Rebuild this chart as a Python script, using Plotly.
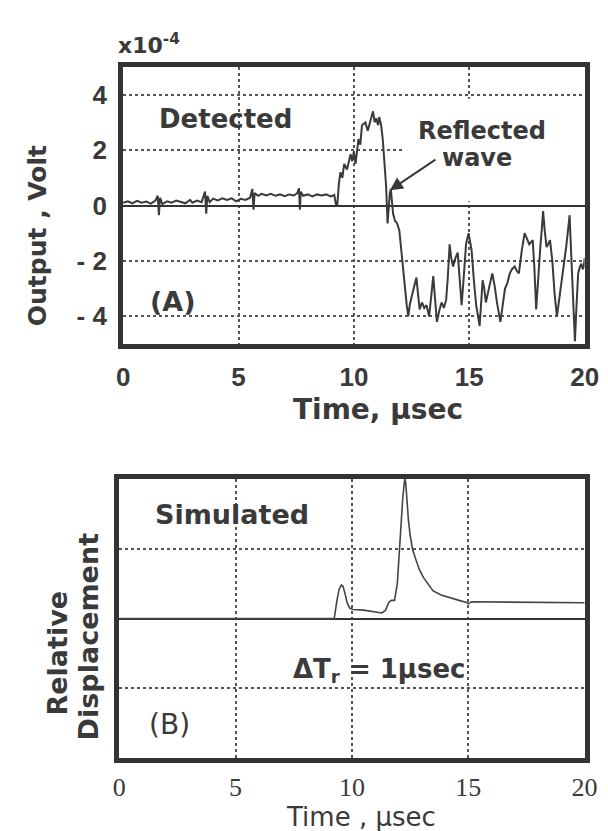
import plotly.graph_objects as go

# ---------------- data ----------------
det_t = [0.0, 0.2, 0.4, 0.6, 0.8, 1.0, 1.2, 1.4, 1.5, 1.55, 1.6, 1.7, 1.9, 2.1, 2.3, 2.5, 2.7, 2.9, 3.0,
         3.2, 3.4, 3.55, 3.6, 3.65, 3.75, 3.9, 4.1, 4.3, 4.5, 4.7, 4.9, 5.1, 5.3, 5.5, 5.6, 5.65, 5.7,
         5.85, 6.0, 6.2, 6.4, 6.6, 6.8, 7.0, 7.2, 7.4, 7.55, 7.62, 7.66, 7.7, 7.8, 8.0, 8.2, 8.4, 8.6,
         8.8, 9.0, 9.15, 9.22, 9.28, 9.35, 9.42, 9.5, 9.58, 9.7, 9.86, 9.93, 10.0, 10.07, 10.2, 10.28,
         10.35, 10.5, 10.6, 10.72, 10.83, 10.9, 10.97, 11.05, 11.1, 11.18, 11.25, 11.32, 11.4, 11.46,
         11.52, 11.56, 11.6, 11.66, 11.7, 11.78, 11.875, 11.97, 12.05, 12.15, 12.22, 12.29, 12.36,
         12.42, 12.5, 12.6, 12.71, 12.78, 12.85, 12.95, 13.05, 13.15, 13.26, 13.35, 13.44, 13.52,
         13.6, 13.7, 13.8, 13.9, 14.0, 14.07, 14.15, 14.22, 14.3, 14.4, 14.5, 14.58, 14.67, 14.76,
         14.86, 14.97, 15.03, 15.1, 15.2, 15.3, 15.45, 15.52, 15.58, 15.65, 15.72, 15.85, 16.0, 16.1,
         16.2, 16.35, 16.45, 16.55, 16.65, 16.76, 16.85, 16.97, 17.05, 17.15, 17.28, 17.4, 17.5,
         17.6, 17.75, 17.82, 17.9, 17.98, 18.08, 18.15, 18.2, 18.27, 18.35, 18.42, 18.5, 18.6, 18.7,
         18.8, 18.9, 19.0, 19.1, 19.2, 19.28, 19.35, 19.42, 19.5, 19.58, 19.65, 19.72, 19.8, 19.86,
         19.92, 19.97, 20.0]
det_v = [0.10, 0.15, 0.08, 0.17, 0.10, 0.14, 0.07, 0.18, 0.35, -0.35, 0.28, 0.05, 0.15, 0.10, 0.18,
         0.12, 0.08, 0.20, 0.10, 0.18, 0.12, 0.50, -0.30, 0.35, 0.12, 0.25, 0.18, 0.26, 0.20, 0.26,
         0.15, 0.24, 0.20, 0.28, 0.60, -0.15, 0.45, 0.35, 0.42, 0.36, 0.42, 0.35, 0.40, 0.34, 0.40,
         0.36, 0.45, 0.62, -0.15, 0.50, 0.35, 0.40, 0.33, 0.40, 0.36, 0.40, 0.33, 0.38, 0.05, 0.0,
         0.8, 1.2, 1.0, 1.5, 1.3, 1.85, 1.6, 1.95, 1.5, 2.4, 2.2, 2.9, 3.0, 2.7, 3.1, 3.4, 3.0, 3.15,
         2.9, 3.2, 2.9, 2.4, 1.6, 0.65, -0.65, 0.1, 0.45, 0.6, 0.1, -0.3, -0.55, -0.65, -0.9, -1.6,
         -2.45, -3.2, -3.6, -4.0, -3.6, -3.3, -3.0, -2.6, -3.2, -3.75, -3.5, -3.7, -3.6, -4.0, -3.3,
         -2.55, -3.4, -4.2, -3.8, -3.5, -3.7, -3.4, -2.6, -1.4, -1.9, -2.2, -1.9, -1.7, -2.6, -3.6,
         -2.6, -1.4, -1.0, -1.3, -1.6, -2.7, -3.6, -4.35, -3.5, -2.7, -3.0, -3.5, -3.0, -2.45, -2.9,
         -3.5, -4.2, -3.6, -3.0, -2.8, -2.45, -2.3, -2.2, -2.35, -2.45, -1.6, -1.0, -1.2, -1.4,
         -1.25, -2.2, -3.75, -2.6, -1.5, -0.8, -0.2, -0.9, -1.5, -1.4, -1.25, -2.0, -3.2, -4.0,
         -3.4, -2.7, -2.1, -1.5, -0.9, -0.35, -1.8, -3.15, -4.9, -3.6, -2.45, -2.2, -2.1, -2.3,
         -2.2, -1.9]

sim_t = [0, 9.24, 9.35, 9.45, 9.55, 9.62, 9.7, 9.8, 9.9, 10.04, 10.5, 11.0, 11.28, 11.45, 11.58,
         11.7, 11.83, 11.95, 12.04, 12.12, 12.18, 12.24, 12.27, 12.31, 12.36, 12.43, 12.5, 12.6,
         12.72, 12.9, 13.07, 13.3, 13.48, 13.8, 14.17, 14.6, 14.93, 15.0, 15.14, 17.5, 20]
sim_v = [0, 0, 0.25, 0.42, 0.48, 0.46, 0.36, 0.22, 0.15, 0.13, 0.12, 0.10, 0.08, 0.12, 0.23,
         0.26, 0.26, 0.5, 1.0, 1.4, 1.71, 1.92, 2.0, 1.95, 1.71, 1.4, 1.2, 1.0, 0.87, 0.7, 0.59,
         0.48, 0.4, 0.34, 0.3, 0.26, 0.23, 0.21, 0.24, 0.235, 0.225]

x_ticks = [0, 5, 10, 15, 20]
x_ticktext = ["0", "5", "10", "15", "20"]
yA_ticks = [4, 2, 0, -2, -4]
yA_ticktext = ["4", "2", "0", "- 2", "- 4"]
yB_grid = [-1, 1]

# ---------------- figure ----------------
W, H = 608, 831
TXT = "#3a3a3a"
LINE = "#333333"
GRID = "#555555"


def px(x):
    return x / W


def py(y):
    return 1 - y / H


fig = go.Figure()
fig.add_trace(go.Scatter(x=det_t, y=det_v, mode="lines", xaxis="x", yaxis="y",
                         line=dict(color="#3a3a3a", width=2), showlegend=False, hoverinfo="skip"))
fig.add_trace(go.Scatter(x=sim_t, y=sim_v, mode="lines", xaxis="x2", yaxis="y2",
                         line=dict(color="#444444", width=1.6), showlegend=False, hoverinfo="skip"))

common_axis = dict(showline=True, mirror=True, linewidth=5, linecolor=LINE,
                   showgrid=True, gridcolor=GRID, gridwidth=1.5, griddash="dot",
                   ticks="", fixedrange=True)

fig.update_layout(
    width=W, height=H,
    margin=dict(l=0, r=0, t=0, b=0),
    paper_bgcolor="white", plot_bgcolor="white",
    xaxis=dict(domain=[px(112), px(590)], range=[0, 20], tickvals=x_ticks, ticktext=x_ticktext,
               zeroline=False, anchor="y",
               tickfont=dict(family="Liberation Sans", size=26, color=TXT, weight="bold"),
               ticklabelstandoff=6, **common_axis),
    yaxis=dict(domain=[py(336), py(59)], range=[-5, 5], tickvals=yA_ticks, ticktext=yA_ticktext,
               zeroline=True, zerolinecolor=LINE, zerolinewidth=2, anchor="x",
               tickfont=dict(family="Liberation Sans", size=26, color=TXT, weight="bold"),
               ticklabelstandoff=6, **common_axis),
    xaxis2=dict(domain=[px(108), px(590)], range=[0, 20], tickvals=x_ticks, ticktext=x_ticktext,
                zeroline=False, anchor="y2",
                tickfont=dict(family="Liberation Serif", size=26, color=TXT),
                ticklabelstandoff=2, **common_axis),
    yaxis2=dict(domain=[py(750), py(471)], range=[-2, 2], tickvals=yB_grid, showticklabels=False,
                zeroline=True, zerolinecolor=LINE, zerolinewidth=1.8, anchor="x2",
                **common_axis),
)

# white mask behind the "Reflected wave" label (grid hidden there in the original)
fig.add_shape(type="rect", xref="x", yref="y", x0=12.15, x1=19.9, y0=0.15, y1=3.85,
              fillcolor="white", line=dict(width=0), layer="between")

def label(text, x, y, size, bold=True, family="DejaVu Sans", angle=0, xanchor="center"):
    fig.add_annotation(text=text, x=px(x), y=py(y), xref="paper", yref="paper",
                       showarrow=False, xanchor=xanchor, yanchor="middle", textangle=angle,
                       font=dict(family=family, size=size, color=TXT,
                                 weight="bold" if bold else "normal"))

# panel A texts
label("x10<sup>-4</sup>", 105, 36, 22, xanchor="left")
label("Detected", 218, 111, 26)
label("(A)", 164, 293, 27)
label("Reflected", 484, 123, 24)
label("wave", 479, 150, 24)
label("Time, μsec", 376, 401, 28)
label("Output , Volt", 23, 228, 25, angle=-90)

fig.add_annotation(x=11.56, y=0.55, ax=13.6, ay=1.69, xref="x", yref="y", axref="x", ayref="y",
                   text="", showarrow=True, arrowhead=2, arrowsize=1.3, arrowwidth=2,
                   arrowcolor=TXT)

# panel B texts
label("Simulated", 225, 506, 27)
label("(B)", 160, 716, 28, bold=False)
label("ΔT<sub>r</sub> = 1μsec", 377, 662, 26)
label("Relative", 43, 645, 27, angle=-90)
label("Displacement", 76, 628, 27, angle=-90)
label("Time , μsec", 358, 809, 26, bold=False)

fig.write_html("out.html")
